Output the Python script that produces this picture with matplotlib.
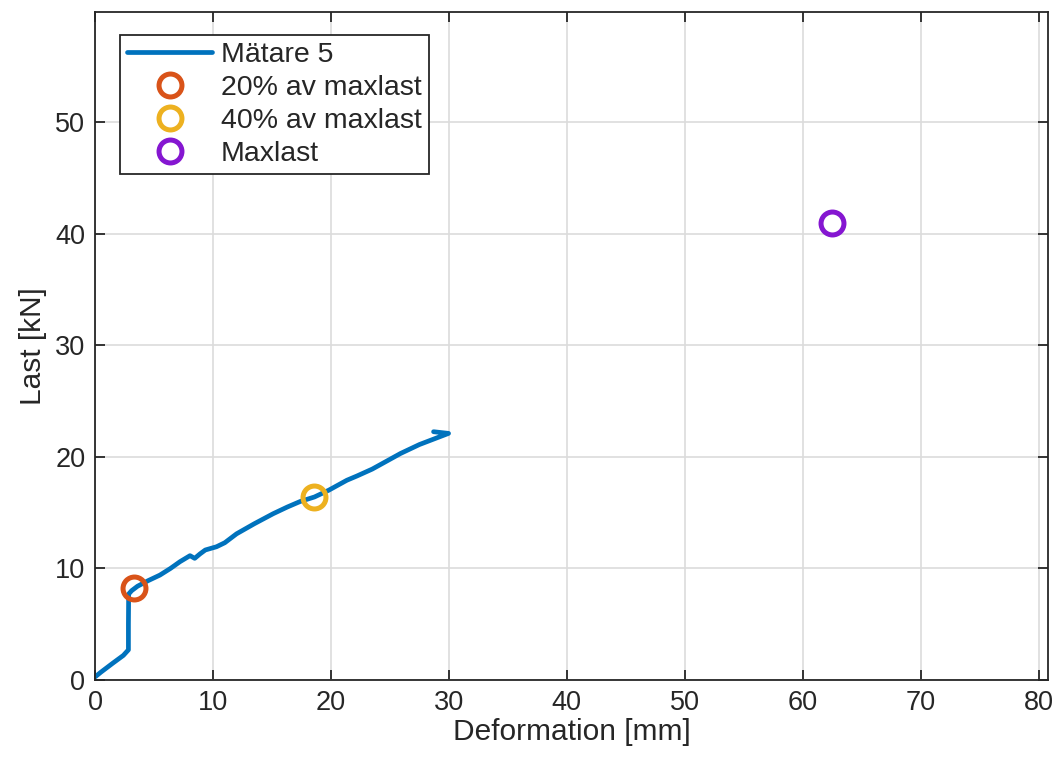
import matplotlib
matplotlib.use('Agg')
import matplotlib.pyplot as plt

plt.rcParams['font.family'] = ['Liberation Sans', 'DejaVu Sans']

# Mätare 5 load-deformation curve
defo = [0.0, 0.5, 1.5, 2.4, 2.83, 2.83, 2.85, 3.1, 3.6, 4.5, 5.5, 6.4, 7.2,
        8.05, 8.45, 8.9, 9.35, 10.3, 11.0, 12.0, 13.5, 15.1, 16.3, 17.4,
        18.6, 19.8, 21.35, 22.2, 23.5, 25.9, 27.5, 29.97, 28.7]
last = [0.27, 0.7, 1.5, 2.2, 2.7, 5.0, 7.7, 8.0, 8.4, 8.9, 9.4, 10.0, 10.6,
        11.14, 10.9, 11.3, 11.65, 11.94, 12.3, 13.1, 14.0, 14.9, 15.5, 16.0,
        16.4, 17.0, 17.9, 18.28, 18.9, 20.3, 21.1, 22.1, 22.25]

p20 = (3.33, 8.2)
p40 = (18.6, 16.4)
pmax = (62.5, 41.0)

fig, ax = plt.subplots(figsize=(10.56, 7.64), dpi=100)
fig.subplots_adjust(left=0.09, right=0.9925, bottom=0.11, top=0.984)

ax.plot(defo, last, color='#0072BD', lw=3.4, label='Mätare 5', solid_capstyle='round')
ax.plot(*p20, 'o', ms=16.5, mfc='none', mec='#D95319', mew=3.6, label='20% av maxlast')
ax.plot(*p40, 'o', ms=16.5, mfc='none', mec='#EDB120', mew=3.6, label='40% av maxlast')
ax.plot(*pmax, 'o', ms=16.5, mfc='none', mec='#8516D1', mew=3.6, label='Maxlast')

ax.set_xlim(0, 80.8)
ax.set_ylim(0, 59.85)
ax.set_xticks(range(0, 81, 10))
ax.set_yticks(range(0, 51, 10))
ax.grid(True, color='#dcdcdc', lw=1.2)
ax.set_axisbelow(True)
for s in ax.spines.values():
    s.set_color('#262626')
    s.set_linewidth(1.3)
ax.tick_params(direction='in', length=7, width=1.3, labelsize=19.5, colors='#262626',
               top=True, right=True, pad=7)
ax.set_xlabel('Deformation [mm]', fontsize=21.5, color='#262626', labelpad=2)
ax.set_ylabel('Last [kN]', fontsize=21.5, color='#262626', labelpad=6)

leg = ax.legend(loc='upper left', bbox_to_anchor=(0.026, 0.9655), fontsize=20.5,
                fancybox=False, framealpha=1, edgecolor='#262626',
                handlelength=3.0, handletextpad=0.3, labelspacing=0.24,
                borderpad=0.25, borderaxespad=0)
leg.get_frame().set_linewidth(1.3)
for t in leg.get_texts():
    t.set_color('#262626')

fig.savefig('out.png', dpi=100)
